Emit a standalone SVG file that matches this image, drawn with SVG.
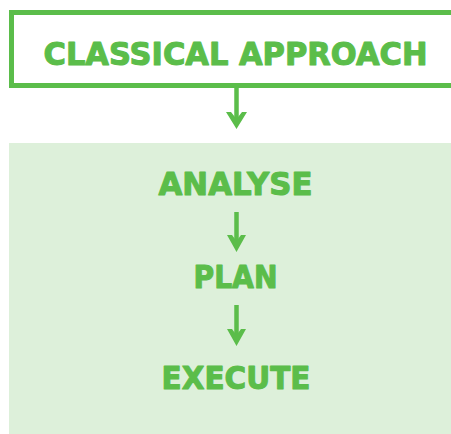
<svg xmlns="http://www.w3.org/2000/svg" width="451" height="434" viewBox="0 0 451 434">
<style>
.t{font-family:"DejaVu Sans","Liberation Sans",sans-serif;font-weight:bold;font-size:32px;fill:#5BBD4A;stroke:#5BBD4A;stroke-width:1.1;stroke-linejoin:round;}
.s{stroke:#5BBD4A;stroke-width:4.5;fill:none;}
.h{fill:#5BBD4A;}
</style>
<rect x="0" y="0" width="451" height="434" fill="#ffffff"/>
<g id="top">
<rect x="11.5" y="12.5" width="450" height="73" fill="#ffffff" stroke="#5BBD4A" stroke-width="5"/>
<text class="t" x="43.5" y="64.5" textLength="384" lengthAdjust="spacingAndGlyphs">CLASSICAL APPROACH</text>
</g>
<g id="panel">
<rect x="9" y="143" width="442" height="291" fill="#DDF0DA"/>
</g>
<g id="analyse"><text class="t" x="158.5" y="194.5" textLength="154" lengthAdjust="spacingAndGlyphs">ANALYSE</text></g>
<g id="plan"><text class="t" x="193.5" y="288" textLength="84" lengthAdjust="spacingAndGlyphs">PLAN</text></g>
<g id="execute"><text class="t" x="161.5" y="388.5" textLength="149" lengthAdjust="spacingAndGlyphs">EXECUTE</text></g>
<g id="connectors">
<path class="s" d="M236.5 88V122"/>
<polygon class="h" points="226,112 231,112 236.5,119 242,112 247,112 236.5,129"/>
<path class="s" d="M236.5 212V245"/>
<polygon class="h" points="227,235 232,235 236.5,241 241,235 246,235 236.5,252"/>
<path class="s" d="M236.5 305V339"/>
<polygon class="h" points="227,329 232,329 236.5,335 241,329 246,329 236.5,346"/>
</g>
</svg>
